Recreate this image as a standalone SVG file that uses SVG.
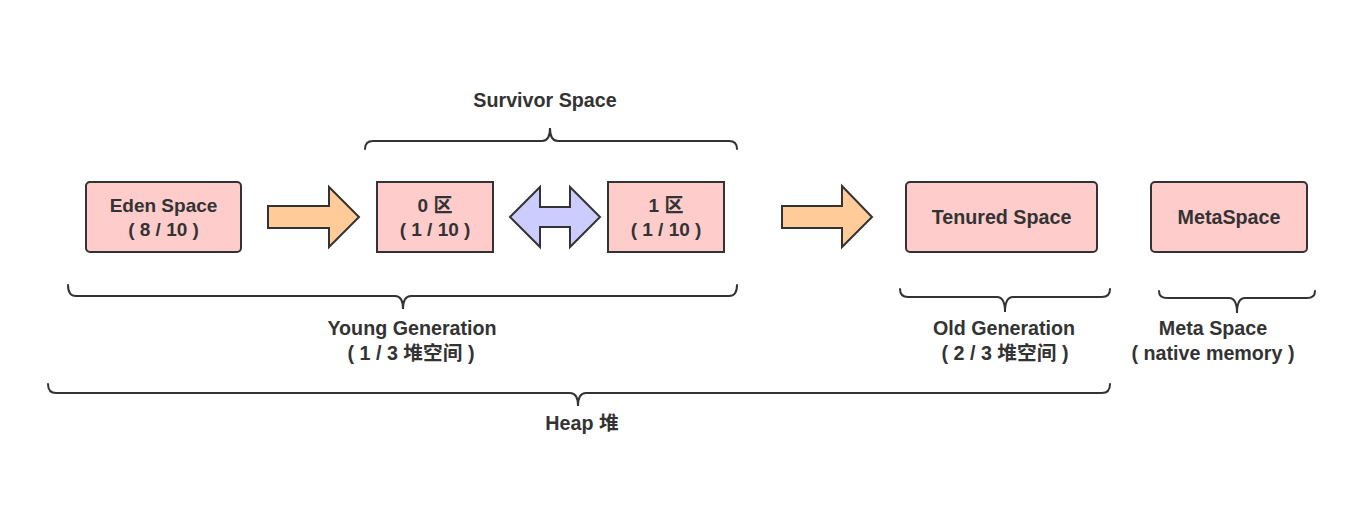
<svg xmlns="http://www.w3.org/2000/svg" width="1370" height="516" viewBox="0 0 1370 516">
<style>
.box{fill:#ffcccc;stroke:#333;stroke-width:2}
.arr{fill:#ffcc99;stroke:#333;stroke-width:2;stroke-linejoin:miter}
.darr{fill:#ccccff;stroke:#333;stroke-width:2}
.brace{fill:none;stroke:#333;stroke-width:2;stroke-linecap:round}
text{font-family:"Liberation Sans","Noto Sans CJK SC",sans-serif;font-weight:bold;font-size:19.7px;fill:#333;text-anchor:middle}
text.two{font-size:19px}
</style>
<rect width="1370" height="516" fill="#fff"/>
<g id="eden"><rect class="box" x="86" y="182" width="155" height="70" rx="4"/><text class="two" x="163.5" y="212">Eden Space</text><text class="two" x="163.5" y="236">( 8 / 10 )</text></g>
<g id="s0"><rect class="box" x="377" y="182" width="116" height="70"/><text class="two" x="435" y="212">0 区</text><text class="two" x="435" y="236">( 1 / 10 )</text></g>
<g id="s1"><rect class="box" x="608" y="182" width="116" height="70"/><text class="two" x="666" y="212">1 区</text><text class="two" x="666" y="236">( 1 / 10 )</text></g>
<g id="tenured"><rect class="box" x="906" y="182" width="191" height="70" rx="4"/><text x="1001.5" y="224">Tenured Space</text></g>
<g id="meta"><rect class="box" x="1151" y="182" width="156" height="70" rx="4"/><text x="1229" y="224">MetaSpace</text></g>
<g id="connectors">
<polygon class="arr" points="268,206 329,206 329,187 359,217 329,247 329,228 268,228"/>
<polygon class="arr" points="782,206 842,206 842,186 872,217 842,247 842,228 782,228"/>
<polygon class="darr" points="510,217 540,187 540,207 570,207 570,187 600,217 570,247 570,227 540,227 540,247"/>
</g>
<g id="braces">
<path class="brace" d="M365,149 Q365,141 373,141 H542 Q550,141 550,128 Q550,141 558,141 H729 Q737,141 737,149"/>
<path class="brace" d="M68,285 Q68,296 76,296 H395 Q403,296 403,309 Q403,296 411,296 H729 Q737,296 737,285"/>
<path class="brace" d="M900,289 Q900,297 908,297 H997 Q1005,297 1005,312 Q1005,297 1013,297 H1102 Q1110,297 1110,289"/>
<path class="brace" d="M1159,291 Q1159,298 1167,298 H1229 Q1237,298 1237,313 Q1237,298 1245,298 H1307 Q1315,298 1315,291"/>
<path class="brace" d="M48,384 Q48,393 56,393 H570 Q578,393 578,406 Q578,393 586,393 H1102 Q1110,393 1110,384"/>
</g>
<g id="labels">
<text x="545" y="107">Survivor Space</text>
<text x="412" y="335">Young Generation</text>
<text x="411" y="360">( 1 / 3 堆空间 )</text>
<text x="1004" y="335">Old Generation</text>
<text x="1005" y="360">( 2 / 3 堆空间 )</text>
<text x="1213" y="335">Meta Space</text>
<text x="1213" y="360">( native memory )</text>
<text x="582" y="430">Heap 堆</text>
</g>
</svg>
